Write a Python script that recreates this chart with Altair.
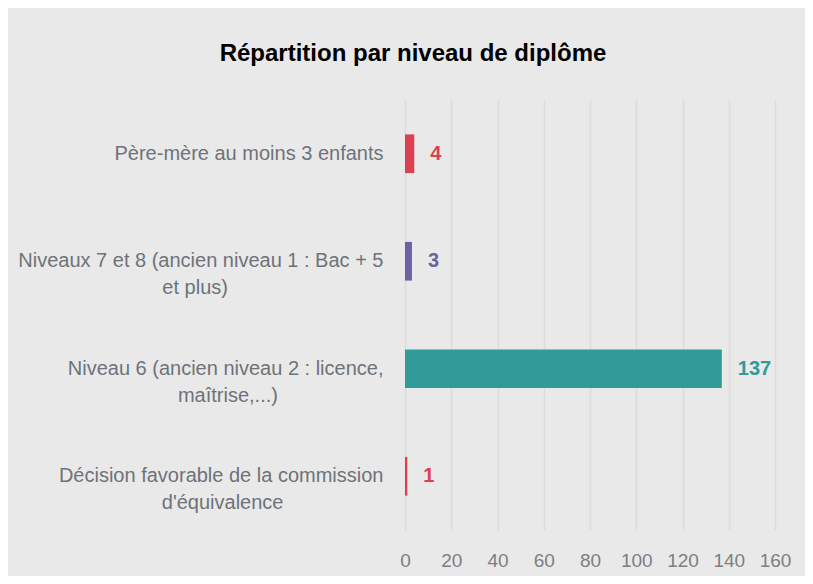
import altair as alt
import pandas as pd

# Data
categories = [
    "Père-mère au moins 3 enfants",
    "Niveaux 7 et 8 (ancien niveau 1 : Bac + 5\net plus)",
    "Niveau 6 (ancien niveau 2 : licence,\nmaîtrise,...)",
    "Décision favorable de la commission\nd'équivalence",
]
values = [4, 3, 137, 1]
colors = ["#dc3f50", "#6a62a3", "#319b98", "#dc3f50"]
x_ticks = [0, 20, 40, 60, 80, 100, 120, 140, 160]

NBSP = "\u00a0"
WJ = "\u2060"  # keeps trailing no-break spaces from being stripped


def centered_label(text):
    # axis labels are right-aligned: pad the 2nd line so it sits centred under the 1st
    lines = text.split("\n")
    if len(lines) == 1:
        return text
    first, second = lines
    n = max(0, round(0.84 * (len(first) - len(second))))
    return first + "\n" + second + NBSP * n + WJ


labels = [centered_label(c) for c in categories]

df = pd.DataFrame({"cat": labels, "value": values, "color": colors})

FONT = "Liberation Sans, Arial, sans-serif"

y_enc = alt.Y(
    "cat:N",
    sort=None,
    title=None,
    scale=alt.Scale(paddingInner=0.64, paddingOuter=0.32),
    axis=alt.Axis(
        labelExpr="split(datum.value, '\\n')",
        labelAlign="right",
        labelBaseline="middle",
        labelPadding=22,
        labelFontSize=20,
        labelLineHeight=27,
        labelColor="#6d7379",
        labelFont=FONT,
        labelLimit=500,
        ticks=False,
        domain=False,
        grid=False,
    ),
)

x_enc = alt.X(
    "value:Q",
    title=None,
    scale=alt.Scale(domain=[0, 160], nice=False),
    axis=alt.Axis(
        values=x_ticks,
        labelFontSize=19,
        labelColor="#7a7f85",
        labelFont=FONT,
        labelPadding=21,
        labelFlush=False,
        labelOverlap=False,
        ticks=False,
        domain=False,
        grid=True,
        gridColor="#dcdcdc",
        gridWidth=1.5,
    ),
)

bars = alt.Chart(df).mark_bar().encode(
    y=y_enc,
    x=x_enc,
    color=alt.Color("color:N", scale=None, legend=None),
)

text = alt.Chart(df).mark_text(
    align="left",
    baseline="middle",
    dx=16,
    fontSize=20,
    fontWeight="bold",
    font=FONT,
).encode(
    y=alt.Y("cat:N", sort=None),
    x=alt.X("value:Q"),
    text=alt.Text("value:Q"),
    color=alt.Color("color:N", scale=None, legend=None),
)

chart = (
    alt.layer(bars, text)
    .properties(
        width=370,
        height=430,
        background="#e9e9e9",
        padding={"left": 397, "top": 92, "right": 30, "bottom": 46},
        autosize=alt.AutoSizeParams(type="none"),
        title=alt.TitleParams(
            "Répartition par niveau de diplôme",
            font=FONT,
            fontSize=24,
            fontWeight="bold",
            color="#000000",
            anchor="middle",
            frame="group",
            dx=-177,
            offset=34,
        ),
    )
    .configure_view(stroke=None)
)

chart.save("out.html", embed_options={"renderer": "svg", "actions": False})
